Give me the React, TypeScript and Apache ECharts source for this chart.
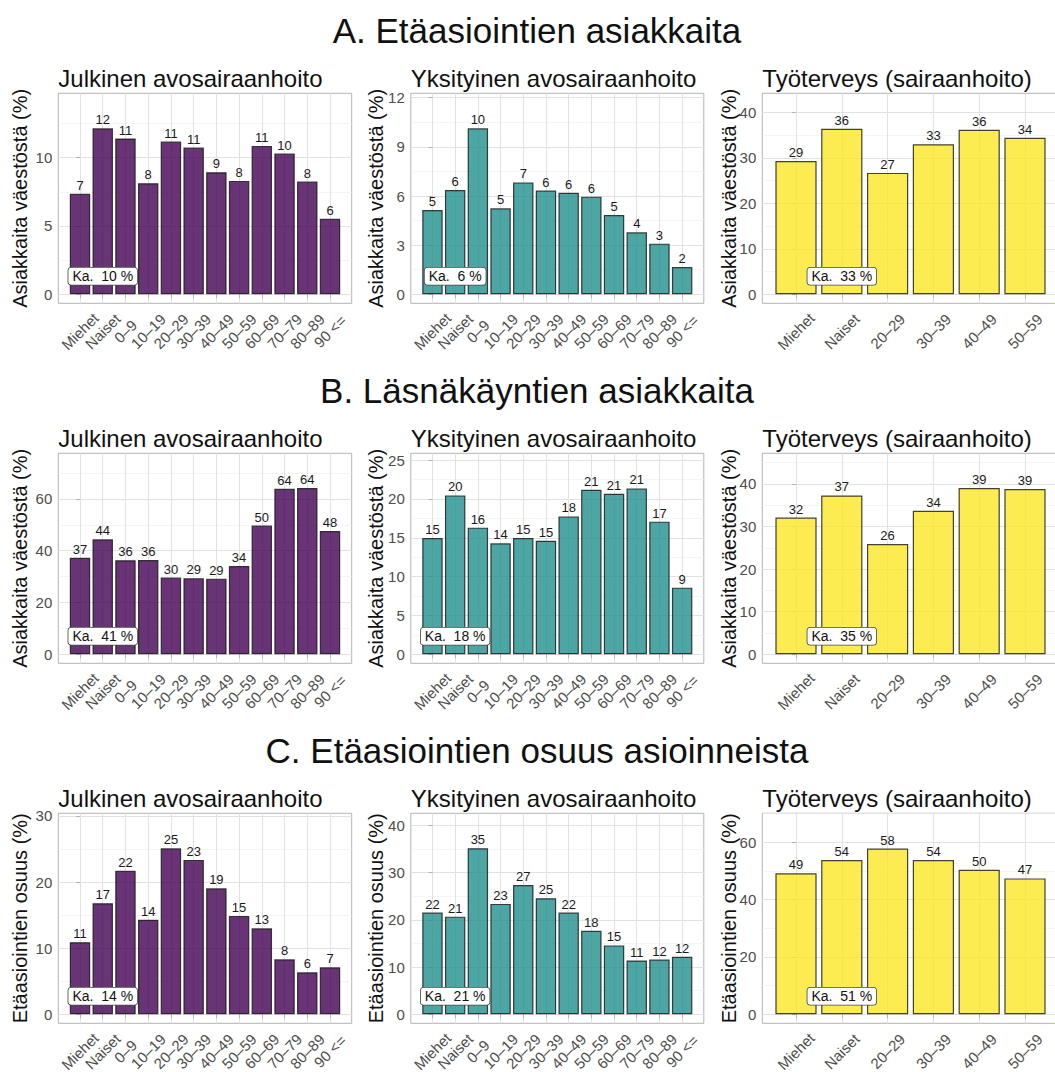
import React, { useEffect, useRef } from "react";
import * as echarts from "echarts";

const FONT = '"Liberation Sans", Arial, Helvetica, sans-serif';

// Categories
const CATS_ALL = ["Miehet", "Naiset", "0–9", "10–19", "20–29", "30–39", "40–49", "50–59", "60–69", "70–79", "80–89", "90 <="];
const CATS_WORK = ["Miehet", "Naiset", "20–29", "30–39", "40–49", "50–59"];

// Titles
const ROW_TITLES = ["A. Etäasiointien asiakkaita", "B. Läsnäkäyntien asiakkaita", "C. Etäasiointien osuus asioinneista"];
const PANEL_TITLES = ["Julkinen avosairaanhoito", "Yksityinen avosairaanhoito", "Työterveys (sairaanhoito)"];
const Y_TITLES = ["Asiakkaita väestöstä (%)", "Asiakkaita väestöstä (%)", "Etäasiointien osuus (%)"];

// Series values (%)
const A_PUBLIC = [7.35, 12.15, 11.4, 8.13, 11.18, 10.74, 8.93, 8.3, 10.86, 10.3, 8.25, 5.52];
const A_PRIVATE = [5.15, 6.37, 10.13, 5.25, 6.83, 6.33, 6.2, 5.96, 4.84, 3.78, 3.09, 1.67];
const A_WORK = [29.3, 36.4, 26.7, 33.0, 36.2, 34.4];
const B_PUBLIC = [37.3, 44.4, 36.3, 36.4, 29.6, 29.4, 29.2, 34.1, 49.7, 63.9, 64.2, 47.6];
const B_PRIVATE = [14.97, 20.45, 16.3, 14.28, 14.97, 14.62, 17.75, 21.18, 20.67, 21.35, 17.07, 8.58];
const B_WORK = [32.1, 37.3, 25.9, 33.7, 39.06, 38.8];
const C_PUBLIC = [10.9, 16.8, 21.7, 14.3, 25.1, 23.35, 19.06, 14.88, 13.0, 8.32, 6.35, 7.11];
const C_PRIVATE = [21.55, 20.7, 35.2, 23.4, 27.4, 24.6, 21.55, 17.7, 14.6, 11.4, 11.6, 12.2];
const C_WORK = [49.2, 53.8, 57.8, 53.8, 50.4, 47.4];

// Averages ("Ka.")
const AVG_A = [10, 6, 33];
const AVG_B = [41, 18, 35];
const AVG_C = [14, 21, 51];

// Y ticks (major / minor)
const TICKS_A = [[0, 5, 10], [0, 3, 6, 9, 12], [0, 10, 20, 30, 40]];
const MINOR_A = [[2.5, 7.5, 12.5], [1.5, 4.5, 7.5, 10.5], [5, 15, 25, 35]];
const TICKS_B = [[0, 20, 40, 60], [0, 5, 10, 15, 20, 25], [0, 10, 20, 30, 40]];
const MINOR_B = [[10, 30, 50, 70], [2.5, 7.5, 12.5, 17.5, 22.5], [5, 15, 25, 35, 45]];
const TICKS_C = [[0, 10, 20, 30], [0, 10, 20, 30, 40], [0, 20, 40, 60]];
const MINOR_C = [[5, 15, 25], [5, 15, 25, 35], [10, 30, 50, 70]];

// Y axis ranges
const RANGE_A = [[-0.66, 14.71], [-0.55, 12.27], [-1.98, 44.2]];
const RANGE_B = [[-3.48, 77.6], [-1.16, 25.87], [-2.11, 47.2]];
const RANGE_C = [[-1.36, 30.4], [-1.91, 42.6], [-3.14, 70.1]];

const COLORS = ["rgba(68,1,84,0.8)", "rgba(33,144,140,0.8)", "rgba(253,231,37,0.8)"];

// Layout
const COL_LEFT = [58.3, 410.8, 762.3];
const COL_W = [293.4, 293, 296.4];
const ROW_TOP = [93.3, 453.3, 813.3];
const BOX_H = 210;
const NAME_GAP = [38, 35, 33];
const ROW_TITLE_Y = [30, 390, 750];
const PANEL_TITLE_Y = [78, 438, 798];

const MAJOR = "#e2e2e2";
const MINOR = "#f1f1f1";
const BORDER = "#b3b3b3";

export default function App() {
  const ref = useRef<HTMLDivElement>(null);

  useEffect(() => {
    const chart = echarts.init(ref.current as HTMLDivElement, null, { renderer: "svg" });

    const rows = [
      { values: [A_PUBLIC, A_PRIVATE, A_WORK], avg: AVG_A, ticks: TICKS_A, minor: MINOR_A, range: RANGE_A },
      { values: [B_PUBLIC, B_PRIVATE, B_WORK], avg: AVG_B, ticks: TICKS_B, minor: MINOR_B, range: RANGE_B },
      { values: [C_PUBLIC, C_PRIVATE, C_WORK], avg: AVG_C, ticks: TICKS_C, minor: MINOR_C, range: RANGE_C },
    ];

    const grids: any[] = [];
    const xAxes: any[] = [];
    const yAxes: any[] = [];
    const series: any[] = [];
    const graphics: any[] = [];

    rows.forEach((row, r) => {
      graphics.push({
        type: "text",
        x: 537,
        y: ROW_TITLE_Y[r],
        style: {
          text: ROW_TITLES[r],
          fontSize: 35,
          fontFamily: FONT,
          fill: "#111",
          align: "center",
          verticalAlign: "middle",
          textAlign: "center",
          textVerticalAlign: "middle",
        },
      });
      for (let c = 0; c < 3; c++) {
        const g = grids.length;
        const cats = c === 2 ? CATS_WORK : CATS_ALL;
        const n = cats.length;
        const exp = n > 6 ? 0.955 : 0.736;
        const idx = cats.map((_, k) => k);
        const [ymin, ymax] = row.range[c];

        graphics.push({
          type: "text",
          x: COL_LEFT[c],
          y: PANEL_TITLE_Y[r],
          style: {
            text: PANEL_TITLES[c],
            fontSize: 24,
            fontFamily: FONT,
            fill: "#111",
            align: "left",
            verticalAlign: "middle",
            textAlign: "left",
            textVerticalAlign: "middle",
          },
        });

        grids.push({
          left: COL_LEFT[c],
          top: ROW_TOP[r],
          width: COL_W[c],
          height: BOX_H,
          show: true,
          borderColor: BORDER,
          borderWidth: 1,
          backgroundColor: "#fff",
          containLabel: false,
          outerBoundsMode: "none",
        });

        xAxes.push({
          type: "value",
          gridIndex: g,
          min: -exp,
          max: n - 1 + exp,
          axisLine: { show: false },
          axisTick: { show: true, customValues: idx, length: 4, lineStyle: { color: BORDER } },
          axisLabel: {
            customValues: idx,
            formatter: (v: number) => cats[Math.round(v)] ?? "",
            rotate: 45,
            align: "center",
            verticalAlign: "middle",
            margin: 28,
            color: "#4d4d4d",
            fontSize: 15,
            fontFamily: FONT,
            hideOverlap: false,
          },
          splitLine: { show: true, lineStyle: { color: MAJOR, width: 1 } },
        });

        yAxes.push({
          type: "value",
          gridIndex: g,
          min: ymin,
          max: ymax,
          name: Y_TITLES[r],
          nameLocation: "middle",
          nameGap: NAME_GAP[c],
          nameRotate: 90,
          nameMoveOverlap: false,
          nameTextStyle: {
            fontSize: 20,
            fontFamily: FONT,
            color: "#111",
            align: "center",
            verticalAlign: "middle",
          },
          axisLine: { show: false },
          axisTick: { show: true, customValues: row.ticks[c], length: 4, lineStyle: { color: BORDER } },
          axisLabel: {
            customValues: row.ticks[c],
            color: "#4d4d4d",
            fontSize: 15,
            fontFamily: FONT,
            margin: 6,
          },
          splitLine: { show: true, lineStyle: { color: MAJOR, width: 1 } },
        });
        yAxes.push({
          type: "value",
          gridIndex: g,
          min: ymin,
          max: ymax,
          axisLine: { show: false },
          axisTick: { show: false, customValues: row.minor[c] },
          axisLabel: { show: false },
          splitLine: { show: true, lineStyle: { color: MINOR, width: 0.7 } },
        });

        const yIdx = yAxes.length - 2;
        series.push({
          type: "bar",
          xAxisIndex: g,
          yAxisIndex: yIdx,
          data: row.values[c].map((v, k) => [k, v]),
          barWidth: "90%",
          itemStyle: { color: COLORS[c], borderColor: "rgba(20,20,20,0.8)", borderWidth: 1.2 },
          label: {
            show: true,
            position: "top",
            distance: 2,
            formatter: (p: any) => String(Math.round(p.value[1])),
            color: "#1a1a1a",
            fontSize: 13,
            fontFamily: FONT,
          },
          z: 2,
        });
        series.push({
          type: "scatter",
          xAxisIndex: g,
          yAxisIndex: yIdx,
          data: [[1, 0]],
          symbolSize: 1,
          itemStyle: { color: "rgba(0,0,0,0)" },
          label: {
            show: true,
            position: "inside",
            offset: [0, -18],
            formatter: "Ka.  " + row.avg[c] + " %",
            color: "#111",
            opacity: 1,
            fontSize: 14,
            fontFamily: FONT,
            backgroundColor: "#ffffff",
            borderColor: "#444",
            borderWidth: 0.8,
            borderRadius: 3,
            padding: [2, 4, 1, 4],
          },
          z: 5,
        });
      }
    });

    chart.setOption({
      animation: false,
      backgroundColor: "#ffffff",
      textStyle: { fontFamily: FONT },
      grid: grids,
      xAxis: xAxes,
      yAxis: yAxes,
      series,
      graphic: graphics,
    });

    return () => chart.dispose();
  }, []);

  return (
    <div
      ref={ref}
      style={{ position: "absolute", left: 0, top: 0, width: 1055, height: 1072, background: "#fff" }}
    />
  );
}
